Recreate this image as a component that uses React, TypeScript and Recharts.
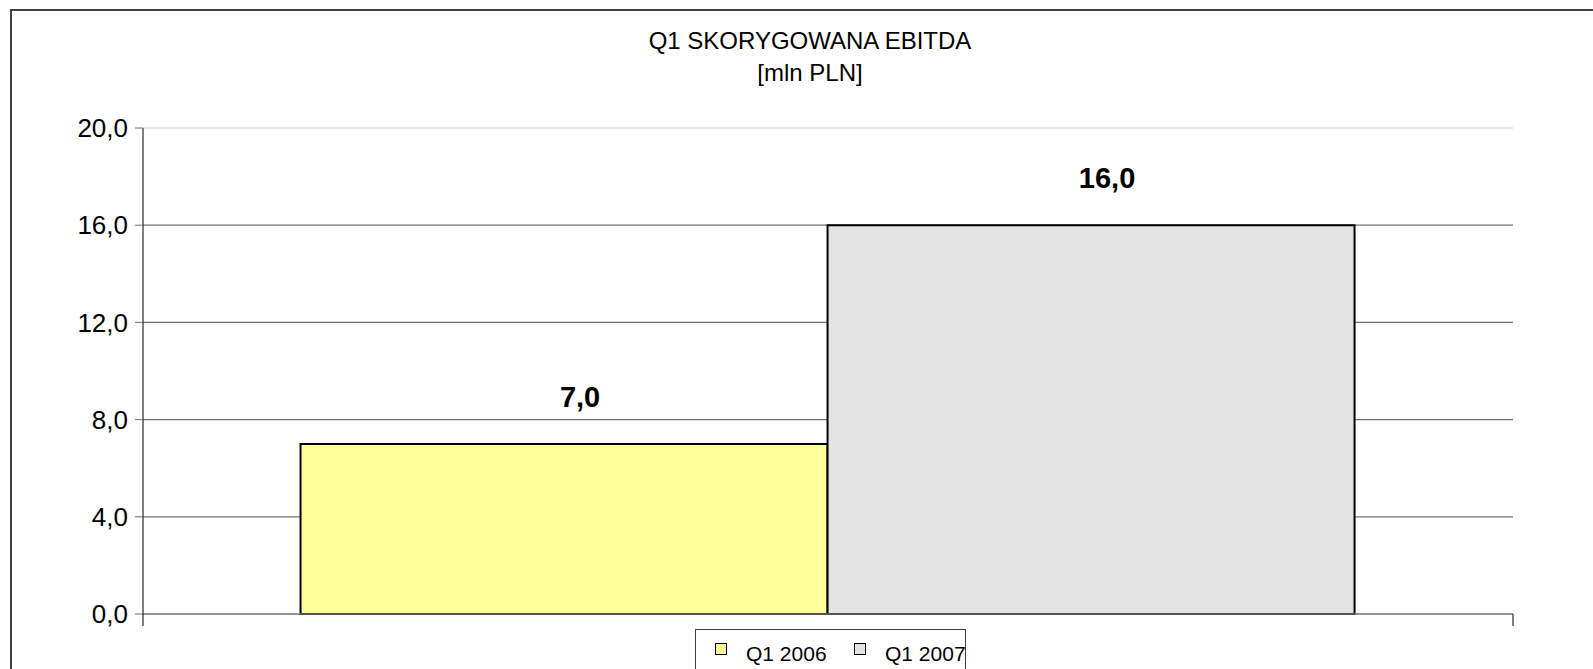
import { BarChart, Bar, XAxis, YAxis, CartesianGrid, ReferenceLine, LabelList, Legend } from 'recharts';

const CATEGORIES = ['Q1'];
const SERIES_NAMES = ['Q1 2006', 'Q1 2007'];
const VALUES_2006 = [7.0];
const VALUES_2007 = [16.0];
const Y_TICKS = [0, 4, 8, 12, 16, 20];
const GRID_VALUES = [4, 8, 12, 16];
const COLORS = ['#FFFF99', '#E3E3E3'];

const FONT = '"Liberation Sans", Arial, sans-serif';

const chartData = CATEGORIES.map((name, i) => ({
  name,
  q2006: VALUES_2006[i],
  q2007: VALUES_2007[i],
}));

const fmt = (v: number) => v.toFixed(1).replace('.', ',');

function ValueLabel(props: any) {
  const { x, y, width, value } = props;
  return (
    <text
      x={x + width / 2 + 16}
      y={y - 37}
      textAnchor="middle"
      fontFamily={FONT}
      fontWeight="bold"
      fontSize={29}
      fill="#000"
    >
      {fmt(value)}
    </text>
  );
}

// excel-style tick marks at the category boundaries instead of the centre
function EdgeTicks(props: any) {
  const { x, y, payload } = props;
  const half = payload && payload.offset ? payload.offset : 0;
  return (
    <g>
      <line x1={x - half} x2={x - half} y1={y} y2={y + 12} stroke="#000" />
      <line x1={x + half} x2={x + half} y1={y} y2={y + 12} stroke="#000" />
    </g>
  );
}

function LegendBox() {
  const item = (i: number, left: number) => (
    <div key={i}>
      <div
        style={{
          position: 'absolute',
          left,
          top: 13,
          width: 10,
          height: 10,
          background: COLORS[i],
          border: '1.5px solid #000',
        }}
      />
      <span
        style={{
          position: 'absolute',
          left: left + 31,
          top: 13,
          fontSize: 21,
          lineHeight: '21px',
          whiteSpace: 'nowrap',
          color: '#000',
        }}
      >
        {SERIES_NAMES[i]}
      </span>
    </div>
  );
  return (
    <div
      style={{
        position: 'relative',
        width: 271,
        height: 60,
        border: '1px solid #404040',
        background: '#fff',
        fontFamily: FONT,
        boxSizing: 'border-box',
      }}
    >
      {item(0, 19)}
      {item(1, 158)}
    </div>
  );
}

export default function App() {
  return (
    <div style={{ position: 'absolute', left: 0, top: 0, width: 1593, height: 669, overflow: 'hidden', background: '#fff' }}>
      <div
        style={{
          position: 'absolute',
          left: 10,
          top: 9,
          width: 1600,
          height: 700,
          border: '2px solid #404040',
        }}
      />
      <div
        style={{
          position: 'absolute',
          left: 15,
          top: 25,
          width: 1590,
          textAlign: 'center',
          fontFamily: FONT,
          fontSize: 24,
          lineHeight: '32px',
          color: '#000',
        }}
      >
        <div>Q1 SKORYGOWANA EBITDA</div>
        <div>[mln PLN]</div>
      </div>
      <div style={{ position: 'absolute', left: 0, top: 0 }}>
        <BarChart
          width={1593}
          height={669}
          data={chartData}
          margin={{ top: 128, right: 80, bottom: 43, left: 0 }}
          barCategoryGap="11.5%"
          barGap={0}
        >
          <CartesianGrid
            vertical={false}
            horizontalValues={GRID_VALUES}
            stroke="#707070"
            strokeWidth={1.3}
          />
          <ReferenceLine y={20} stroke="#DCDCDC" strokeWidth={1.3} />
          <XAxis
            dataKey="name"
            height={12}
            tickSize={0}
            tickMargin={0}
            tickLine={false}
            tick={EdgeTicks}
            axisLine={{ stroke: '#707070', strokeWidth: 1.3 }}
          />
          <YAxis
            width={143}
            domain={[0, 20]}
            ticks={Y_TICKS}
            tickFormatter={fmt}
            tickSize={8}
            tickMargin={7}
            axisLine={{ stroke: '#000' }}
            tickLine={{ stroke: '#707070' }}
            tick={{ fill: '#000', fontSize: 26, fontFamily: FONT }}
            interval={0}
          />
          <Legend
            layout="horizontal"
            verticalAlign="middle"
            align="center"
            content={() => <LegendBox />}
            wrapperStyle={{ left: 695, top: 629, width: 271, height: 60 }}
          />
          <Bar
            dataKey="q2006"
            name={SERIES_NAMES[0]}
            fill={COLORS[0]}
            stroke="#000"
            strokeWidth={2}
            isAnimationActive={false}
          >
            <LabelList dataKey="q2006" content={ValueLabel} />
          </Bar>
          <Bar
            dataKey="q2007"
            name={SERIES_NAMES[1]}
            fill={COLORS[1]}
            stroke="#000"
            strokeWidth={2}
            isAnimationActive={false}
          >
            <LabelList dataKey="q2007" content={ValueLabel} />
          </Bar>
        </BarChart>
      </div>
    </div>
  );
}
